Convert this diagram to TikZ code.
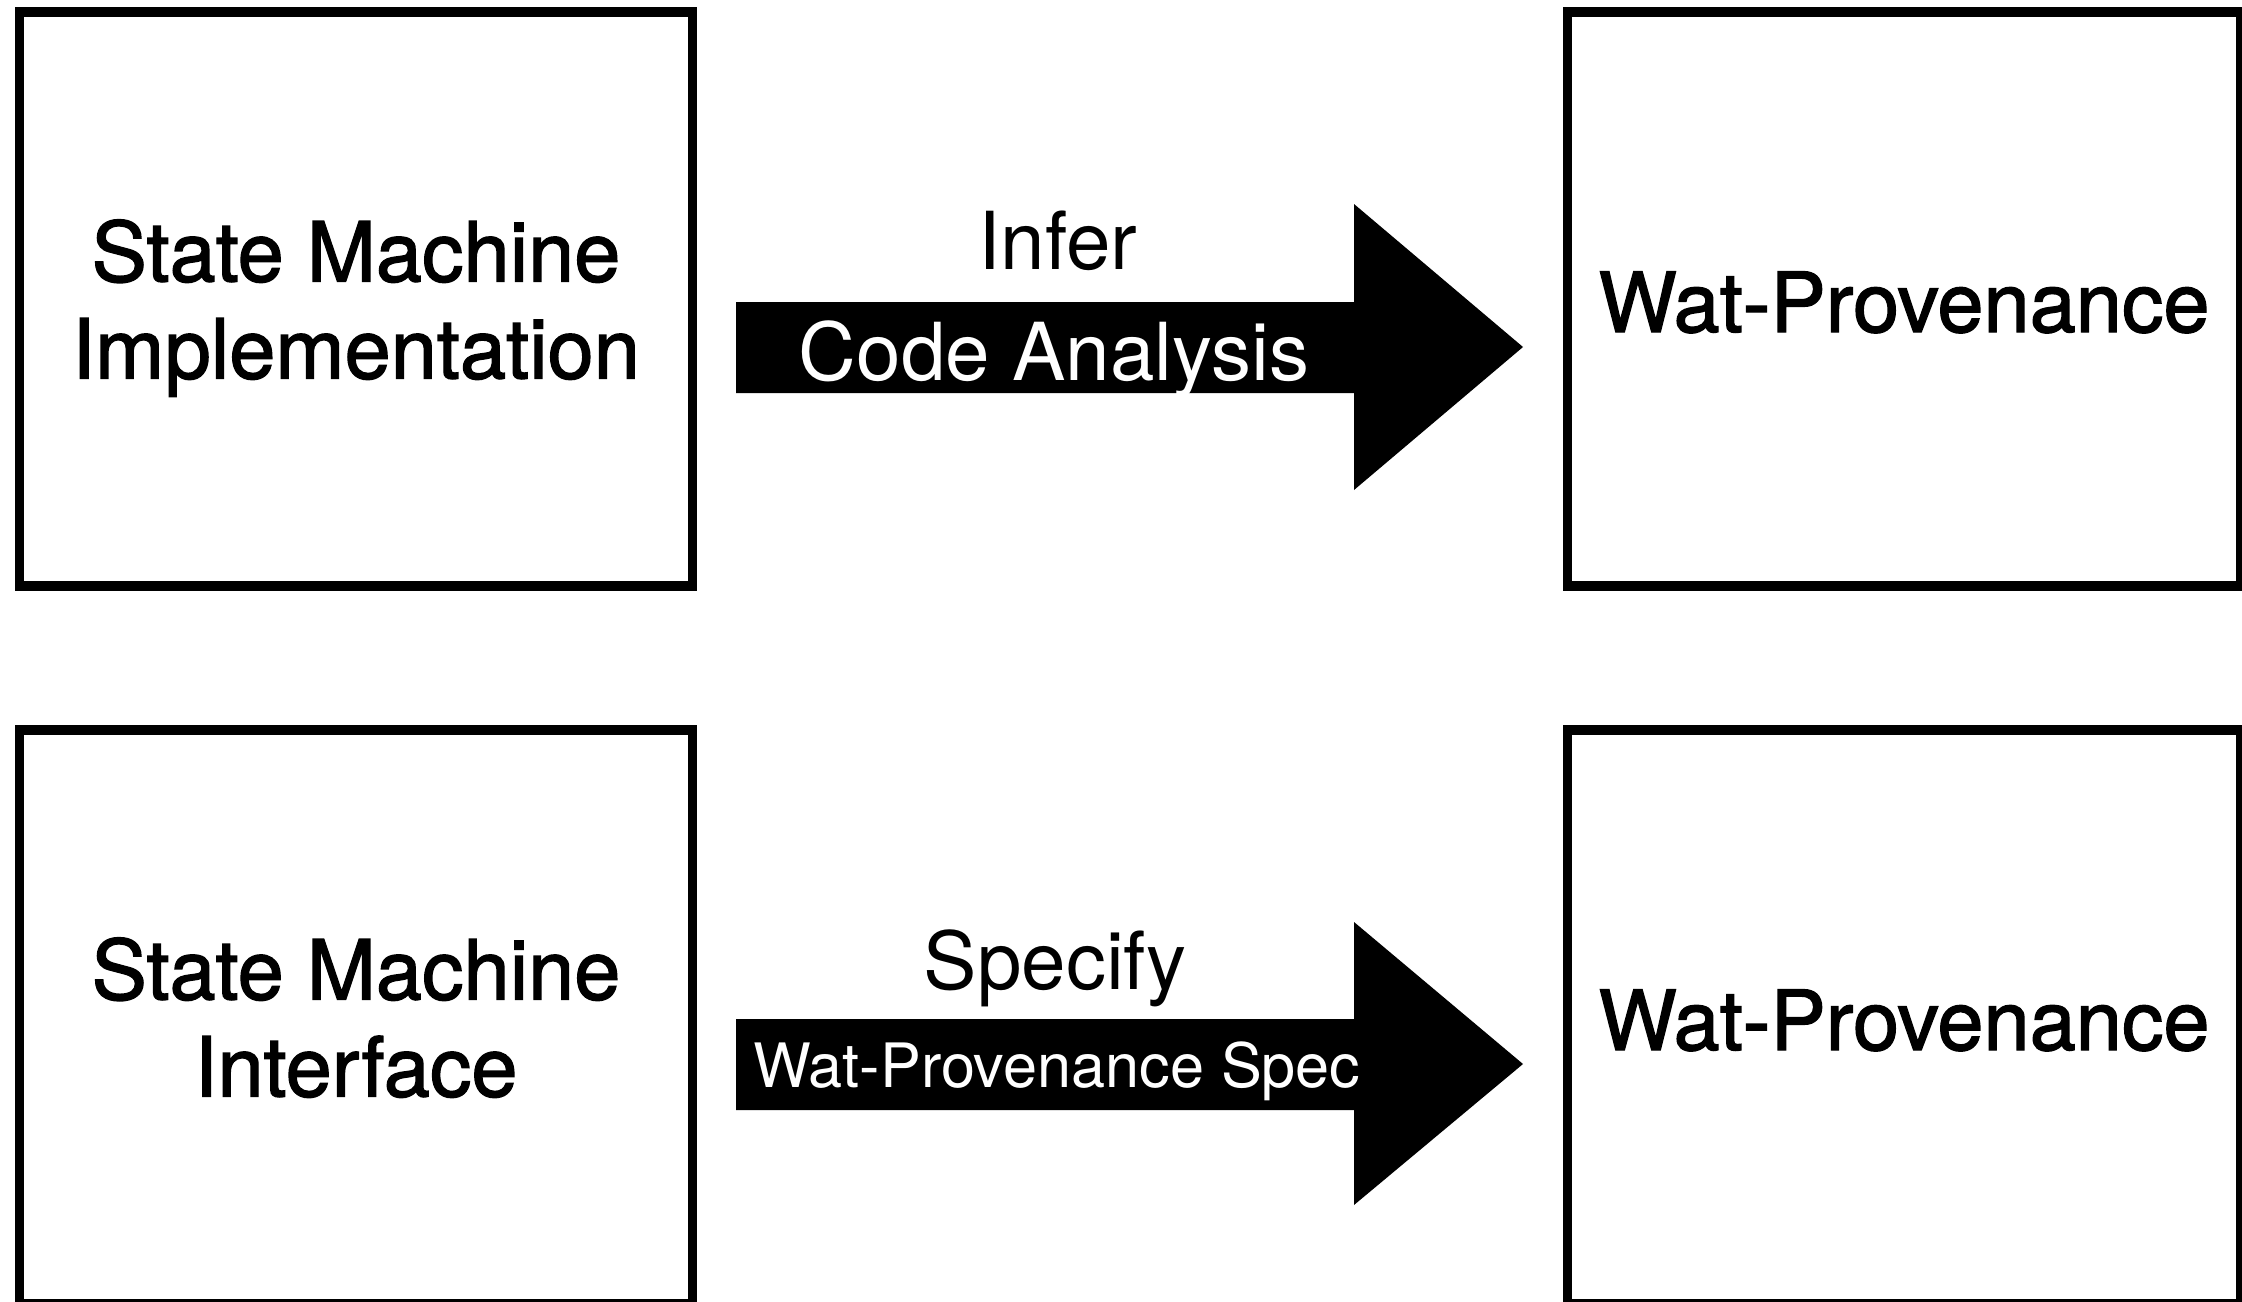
\documentclass[tikz,border=0pt]{standalone}
\usepackage{fontspec}
\setmainfont{TeX Gyre Heros}
\newfontfamily\boxfont[FakeBold=1.6]{TeX Gyre Heros}
\begin{document}
\begin{tikzpicture}[x=0.5pt,y=-0.5pt,
  blockbox/.style={draw=black,line width=4.6pt,minimum width=336.5pt,
    minimum height=287pt,inner sep=0pt,align=center,text depth=0pt,
    font=\boxfont\fontsize{41.5}{48.5}\selectfont},
  steplabel/.style={anchor=base,inner sep=0pt,font=\fontsize{40}{48}\selectfont},
  innerlabel/.style={anchor=base,inner sep=0pt,text=white},
  fatarrow/.style={fill=black}]
\useasboundingbox (0,0) rectangle (2242,1301);
\begin{scope}
\clip (0,0) rectangle (2242,1301);

% boxes
\node[blockbox] (impl) at (356,299) {State Machine\\Implementation};
\node[blockbox,text height=33pt] (wp1) at (1904,299) {Wat-Provenance};
\node[blockbox] (iface) at (356,1017) {State Machine\\Interface};
\node[blockbox,text height=33pt] (wp2) at (1904,1017) {Wat-Provenance};

% block arrows
\fill[fatarrow] (736,302) -- (1354,302) -- (1354,204) -- (1523,347)
  -- (1354,490) -- (1354,393) -- (736,393) -- cycle;
\fill[fatarrow] (736,1019) -- (1354,1019) -- (1354,922) -- (1523,1064)
  -- (1354,1205) -- (1354,1110) -- (736,1110) -- cycle;
\end{scope}

% arrow labels
\node[steplabel] (infer) at (1058,269) {Infer};
\node[steplabel,innerlabel,font=\fontsize{40}{48}\selectfont] (code) at (1054,380) {Code Analysis};
\node[steplabel] (specify) at (1055,989) {Specify};
\node[steplabel,innerlabel,font=\fontsize{30.6}{36}\selectfont] (spec) at (1057,1087) {Wat-Provenance Spec};
\end{tikzpicture}
\end{document}
